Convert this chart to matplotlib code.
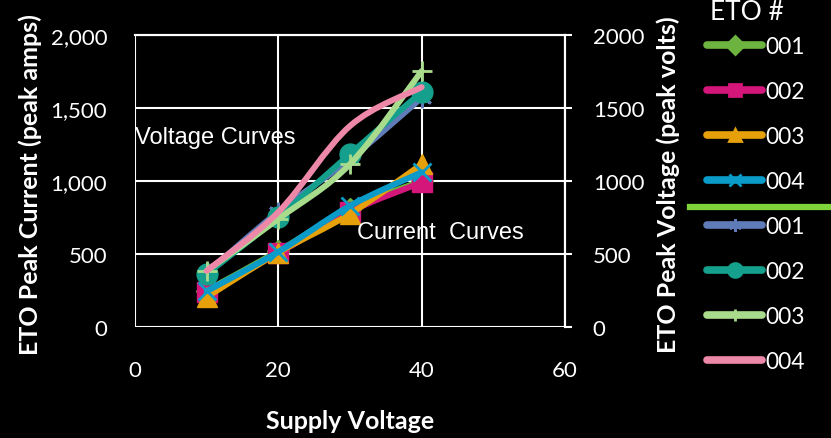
import numpy as np
import matplotlib.pyplot as plt
from matplotlib.path import Path
from matplotlib.patches import PathPatch
from matplotlib.lines import Line2D

# supply voltage steps
supply_v = [10, 20, 30, 40]

# peak current per ETO (left axis, amps)
eto_ids = ["001", "002", "003", "004"]
current_001 = [250, 520, 810, 1000]
current_002 = [240, 505, 790, 990]
current_003 = [205, 510, 775, 1115]
current_004 = [245, 515, 830, 1060]

# peak voltage per ETO (right axis, volts)
voltage_001 = [370, 790, 1150, 1570]
voltage_002 = [363, 753, 1185, 1610]
voltage_003 = [385, 740, 1116, 1753]
voltage_004 = [385, 787, 1377, 1643]

current_colors = ["#6db33f", "#d4157a", "#e6a10a", "#0a9bc9"]
current_markers = ["D", "s", "^", "x"]
voltage_colors = ["#5f7bb8", "#14a08c", "#a8dc8c", "#ee88a8"]
voltage_markers = [(6, 2, 0), "o", "+", None]
marker_sizes = {"D": 11, "s": 14, "^": 14, "x": 13, "o": 15, "+": 14}

plt.rcParams["font.family"] = ["Lato", "DejaVu Sans"]
plt.rcParams["text.color"] = "white"

fig = plt.figure(figsize=(8.31, 4.39), dpi=100, facecolor="black")
ax = fig.add_axes([135 / 831, 111 / 439, 430 / 831, 292 / 439], facecolor="black")
ax2 = ax.twinx()


def smooth_path(xs, ys):
    # Catmull-Rom style bezier through the points (like a spreadsheet "smoothed line")
    pts = np.column_stack([xs, ys]).astype(float)
    padded = np.vstack([pts[0], pts, pts[-1]])
    verts = [pts[0]]
    codes = [Path.MOVETO]
    for i in range(1, len(padded) - 2):
        p0, p1, p2, p3 = padded[i - 1], padded[i], padded[i + 1], padded[i + 2]
        c1 = p1 + (p2 - p0) / 6.0
        c2 = p2 - (p3 - p1) / 6.0
        verts += [c1, c2, p2]
        codes += [Path.CURVE4] * 3
    return Path(verts, codes)


def draw_series(axis, ys, color, marker, z):
    axis.add_patch(PathPatch(smooth_path(supply_v, ys), facecolor="none",
                             edgecolor=color, lw=4.3, capstyle="round",
                             joinstyle="round", zorder=z))
    if marker is not None:
        thin = marker in ("x", "+") or isinstance(marker, tuple)
        ms = marker_sizes.get(marker, 14) if not isinstance(marker, tuple) else 14
        axis.plot(supply_v, ys, ls="none", marker=marker, ms=ms,
                  color=color, mec=color, mew=2 if thin else 1,
                  zorder=z + 0.5)


currents = [current_001, current_002, current_003, current_004]
voltages = [voltage_001, voltage_002, voltage_003, voltage_004]
for i, ys in enumerate(currents):
    draw_series(ax, ys, current_colors[i], current_markers[i], 3 + i)
for i, ys in enumerate(voltages):
    draw_series(ax2, ys, voltage_colors[i], voltage_markers[i], 3 + i)

ax.set_xlim(0, 60)
ax.set_ylim(0, 2000)
ax2.set_ylim(0, 2000)
ax.set_xticks([0, 20, 40, 60])
ax.set_yticks([0, 500, 1000, 1500, 2000])
ax2.set_yticks([0, 500, 1000, 1500, 2000])
ax.set_yticklabels([f"{v:,}" for v in [0, 500, 1000, 1500, 2000]])
ax.grid(True, color="white", lw=1.5)
ax.set_axisbelow(True)

for a in (ax, ax2):
    for s in a.spines.values():
        s.set_color("white")
        s.set_linewidth(1.5)
    a.spines["left"].set_visible(False)
    a.spines["bottom"].set_visible(False)
ax.tick_params(axis="y", length=0, pad=20, labelsize=16, labelcolor="white")
ax.tick_params(axis="x", length=0, pad=24, labelsize=16, labelcolor="white")
ax2.tick_params(axis="y", length=5, width=1.5, color="white", pad=15,
                labelsize=16, labelcolor="white")

ax.text(0, 1300, "Voltage Curves", fontsize=17, family="Liberation Sans",
        va="center", ha="left", zorder=10)
ax.text(31, 650, "Current  Curves", fontsize=17, family="Liberation Sans",
        va="center", ha="left", zorder=10)

fig.text(350 / 831, 1 - 422 / 439, "Supply Voltage", fontsize=18,
         weight="bold", ha="center", va="center")
fig.text(30 / 831, 1 - 185 / 439, "ETO Peak Current (peak amps)", fontsize=18,
         weight="bold", ha="center", va="center", rotation=90)
fig.text(668 / 831, 1 - 185 / 439, "ETO Peak Voltage (peak volts)", fontsize=18,
         weight="bold", ha="center", va="center", rotation=90)

handles = []
labels = []
for i in range(4):
    handles.append(Line2D([], [], color=current_colors[i], lw=5.5,
                          solid_capstyle="round", marker=current_markers[i],
                          ms=9, mew=2))
    labels.append(eto_ids[i])
for i in range(4):
    handles.append(Line2D([], [], color=voltage_colors[i], lw=5.5,
                          solid_capstyle="round", marker=voltage_markers[i],
                          ms=10 if voltage_markers[i] == "o" else 9, mew=2))
    labels.append(eto_ids[i])

leg = fig.legend(handles, labels, loc="upper left",
                 bbox_to_anchor=(707 / 831, 1 - 37 / 439),
                 frameon=False, fontsize=16.5,
                 labelspacing=1.05, handlelength=2.4, handletextpad=0.15,
                 borderpad=0.0, borderaxespad=0.0, labelcolor="white")
fig.text(747 / 831, 1 - 13 / 439, "ETO #", fontsize=19, ha="center",
         va="center")

# divider between the current and voltage groups
fig.add_artist(Line2D([690 / 831, 1.0], [1 - 208 / 439, 1 - 208 / 439],
                      color="#7ed23a", lw=4.5, transform=fig.transFigure))

fig.savefig("out.png", dpi=100, facecolor="black")
